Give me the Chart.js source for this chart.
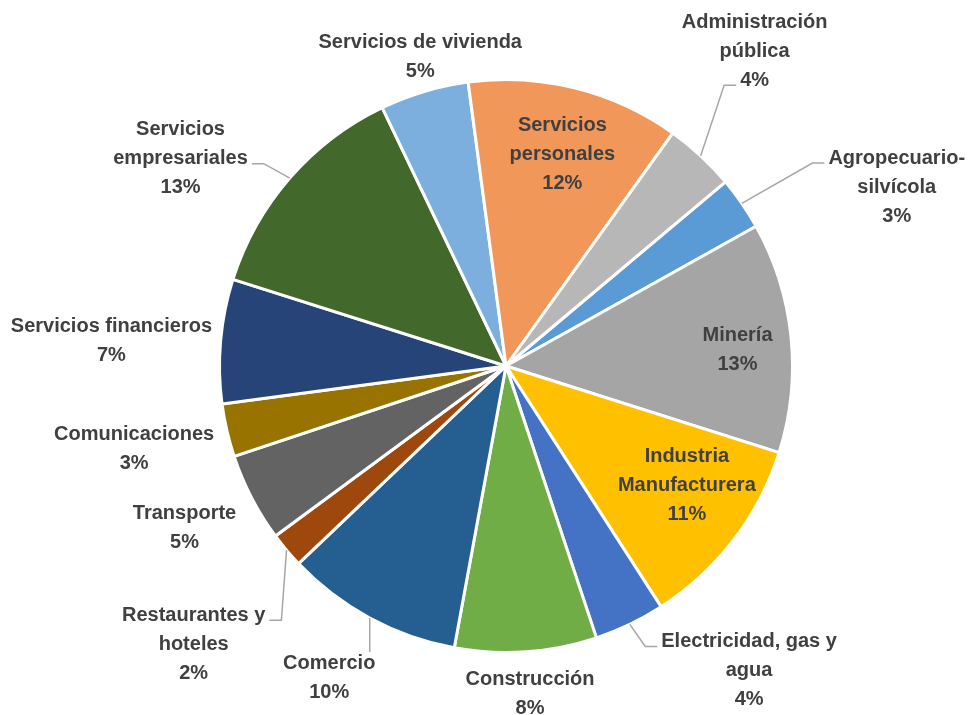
<!DOCTYPE html>
<html lang="es">
<head>
<meta charset="utf-8">
<title>PIB por actividad</title>
<script src="https://cdn.jsdelivr.net/npm/chart.js@4.4.1/dist/chart.umd.min.js"></script>
<style>
  html, body { margin: 0; padding: 0; background: #fff; }
  #wrap { width: 968px; height: 715px; position: relative; }
</style>
</head>
<body>
<div id="wrap"><canvas id="pie"></canvas></div>
<script>
// sectores (orden del gráfico, sentido horario)
const sectores = [
    ['Agropecuario-', 'silvícola'],
    ['Minería'],
    ['Industria', 'Manufacturera'],
    ['Electricidad, gas y', 'agua'],
    ['Construcción'],
    ['Comercio'],
    ['Restaurantes y', 'hoteles'],
    ['Transporte'],
    ['Comunicaciones'],
    ['Servicios financieros'],
    ['Servicios', 'empresariales'],
    ['Servicios de vivienda'],
    ['Servicios', 'personales'],
    ['Administración', 'pública'],
];
const participacion = [3, 13, 11, 4, 8, 10, 2, 5, 3, 7, 13, 5, 12, 4];

const colores = [
    '#5B9BD5', '#A5A5A5', '#FFC000', '#4472C4', '#70AD47', '#255E91', '#9E480E',
    '#636363', '#997300', '#264478', '#43682B', '#7CAFDD', '#F1975A', '#B7B7B7',
];

// ubicación de etiquetas: [desfase angular (grados), radio relativo, línea guía]
const ubicacion = [
    [10, 1.50, true],
    [1.8, 0.81, false],
    [-3.9, 0.757, false],
    [-13, 1.36, true],
    [-0.2, 1.147, false],
    [1.1, 1.253, true],
    [-1.7, 1.46, true],
    [0.7, 1.256, false],
    [0.4, 1.33, false],
    [-1.4, 1.38, false],
    [-8.5, 1.347, true],
    [1.1, 1.12, false],
    [0.9, 0.765, false],
    [-4.5, 1.40, true],
];

const FUENTE = 'bold 20px "Liberation Sans", Arial, sans-serif';
const ALTO_LINEA = 29;

const etiquetas = {
    id: 'etiquetas',
    afterDatasetsDraw(chart) {
        const ctx = chart.ctx;
        const meta = chart.getDatasetMeta(0);
        const datos = chart.data.datasets[0].data;
        const total = datos.reduce((a, b) => a + b, 0);

        ctx.save();
        ctx.font = FUENTE;
        ctx.fillStyle = '#404040';
        ctx.textAlign = 'center';
        ctx.textBaseline = 'middle';

        meta.data.forEach((arc, i) => {
            const { x, y, startAngle, endAngle, outerRadius } = arc.getProps(['x', 'y', 'startAngle', 'endAngle', 'outerRadius'], true);
            const mid = (startAngle + endAngle) / 2;
            const [dAng, rf, guia] = ubicacion[i];
            const a = mid + dAng * Math.PI / 180;
            const cx = x + Math.cos(a) * rf * outerRadius;
            const cy = y + Math.sin(a) * rf * outerRadius;

            const lineas = sectores[i].concat([Math.round(datos[i] / total * 100) + '%']);
            const cajas = lineas.map((t, k) => {
                const w = ctx.measureText(t).width;
                const ly = cy + (k - (lineas.length - 1) / 2) * ALTO_LINEA;
                return { t, ly, left: cx - w / 2, right: cx + w / 2 };
            });

            if (guia) {
                const sx = x + Math.cos(mid) * outerRadius;
                const sy = y + Math.sin(mid) * outerRadius;
                let mejor = null;
                cajas.forEach(c => {
                    let cand;
                    if (sx >= c.left && sx <= c.right) {
                        const ey = sy < c.ly ? c.ly - 12 : c.ly + 12;
                        cand = { pts: [[sx, sy], [sx, ey]], ex: sx, ey };
                    } else if (sx > c.right) {
                        const ex = c.right + 4, ey = c.ly + 5;
                        cand = { pts: [[sx, sy], [ex + 12, ey], [ex, ey]], ex, ey };
                    } else {
                        const ex = c.left - 4, ey = c.ly + 5;
                        cand = { pts: [[sx, sy], [ex - 12, ey], [ex, ey]], ex, ey };
                    }
                    cand.d = Math.hypot(cand.ex - sx, cand.ey - sy);
                    if (!mejor || cand.d < mejor.d) mejor = cand;
                });
                ctx.strokeStyle = '#A6A6A6';
                ctx.lineWidth = 1.5;
                ctx.beginPath();
                mejor.pts.forEach((p, k) => k ? ctx.lineTo(p[0], p[1]) : ctx.moveTo(p[0], p[1]));
                ctx.stroke();
            }

            cajas.forEach(c => ctx.fillText(c.t, cx, c.ly));
        });
        ctx.restore();
    }
};

new Chart(document.getElementById('pie'), {
    type: 'pie',
    data: {
        labels: sectores,
        datasets: [{
            data: participacion,
            backgroundColor: colores,
            borderColor: '#ffffff',
            borderWidth: 3,
            hoverOffset: 0,
        }],
    },
    options: {
        responsive: true,
        maintainAspectRatio: false,
        animation: false,
        rotation: 50,
        layout: {
            padding: { top: 78, bottom: 61, left: 206, right: 162 },
        },
        plugins: {
            legend: { display: false },
            tooltip: { enabled: false },
        },
    },
    plugins: [etiquetas],
});
</script>
</body>
</html>
